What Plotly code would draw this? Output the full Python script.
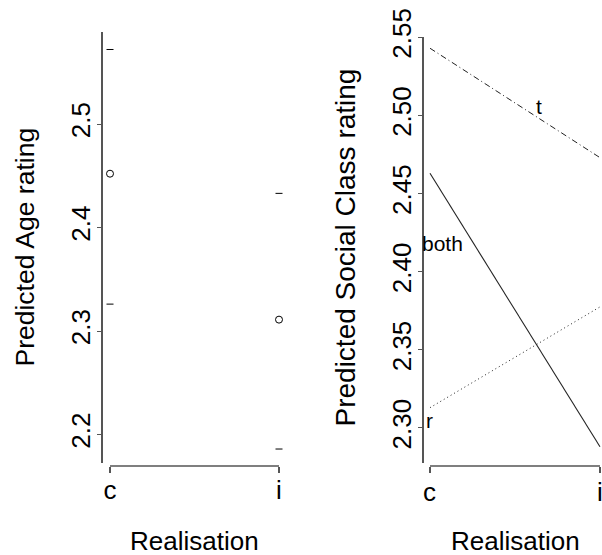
import plotly.graph_objects as go

# ---- data ----
categories = ["c", "i"]
age_pred = [2.452, 2.311]
age_upper = [2.572, 2.433]
age_lower = [2.326, 2.186]

class_both = [2.463, 2.288]
class_t = [2.543, 2.473]
class_r = [2.313, 2.3775]

label_text = ["t", "both", "r"]
label_x = [0.641, 0.074, -0.003]
label_y = [2.5058, 2.418, 2.305]

left_yticks = [2.2, 2.3, 2.4, 2.5]
right_yticks = [2.30, 2.35, 2.40, 2.45, 2.50, 2.55]

W, H = 602, 555
FONT = "Liberation Sans, Arial, sans-serif"
AX = "#555555"
LN = "#222222"


def px(x):
    return x / W


def py(y):
    return 1 - y / H


xi = list(range(len(categories)))

fig = go.Figure()

# left panel
fig.add_trace(go.Scatter(x=xi, y=age_pred, mode="markers",
                         marker=dict(symbol="circle-open", size=7, color="black", line=dict(width=1)),
                         xaxis="x", yaxis="y", showlegend=False))
fig.add_trace(go.Scatter(x=xi + xi, y=age_upper + age_lower, mode="markers",
                         marker=dict(symbol="line-ew", size=5, color="black", line=dict(width=1, color="black")),
                         xaxis="x", yaxis="y", showlegend=False))

# right panel
fig.add_trace(go.Scatter(x=xi, y=class_t, mode="lines",
                         line=dict(color=LN, width=1, dash="6px,3px,1px,3px"),
                         xaxis="x2", yaxis="y2", showlegend=False))
fig.add_trace(go.Scatter(x=xi, y=class_both, mode="lines",
                         line=dict(color=LN, width=1.1),
                         xaxis="x2", yaxis="y2", showlegend=False))
fig.add_trace(go.Scatter(x=xi, y=class_r, mode="lines",
                         line=dict(color=LN, width=1, dash="1px,3px"),
                         xaxis="x2", yaxis="y2", showlegend=False))

# dummy traces to bind the free x axes
fig.add_trace(go.Scatter(x=xi, y=[None, None], xaxis="x3", yaxis="y", showlegend=False, hoverinfo="skip"))
fig.add_trace(go.Scatter(x=xi, y=[None, None], xaxis="x4", yaxis="y2", showlegend=False, hoverinfo="skip"))

tickfont = dict(family=FONT, size=26, color="black")
xpos = py(466)

common_y = dict(showline=True, linecolor=AX, linewidth=1.5, ticks="outside", ticklen=4,
                tickcolor=AX, tickwidth=1.2, showgrid=False, zeroline=False,
                tickangle=-90, tickfont=tickfont, automargin=False, ticklabelstandoff=-3,
                ticklabeloverflow="allow")
common_x = dict(anchor="free", position=xpos, showline=False, showgrid=False, zeroline=False,
                tickvals=xi, ticktext=categories, ticks="outside", ticklen=6,
                tickcolor=AX, tickwidth=1.5, tickfont=tickfont, automargin=False,
                ticklabelstandoff=-5, ticklabeloverflow="allow")

fig.update_layout(
    width=W, height=H, margin=dict(l=0, r=0, t=0, b=0, autoexpand=False),
    paper_bgcolor="white", plot_bgcolor="white",
    xaxis=dict(domain=[px(103), px(286)], range=[-0.0414, 1.0414], visible=False, anchor="y"),
    yaxis=dict(domain=[py(463), py(32)], range=[2.1725, 2.5889], tickvals=left_yticks,
               tickformat=".1f", anchor="x", **common_y),
    xaxis3=dict(domain=[px(103), px(286)], range=[-0.0414, 1.0414], overlaying="x", **common_x),
    xaxis2=dict(domain=[px(424), 1.0], range=[-0.0353, 1.0118], visible=False, anchor="y2"),
    yaxis2=dict(domain=[py(463), py(37)], range=[2.2776, 2.5502], tickvals=right_yticks,
                tickformat=".2f", anchor="x2", **common_y),
    xaxis4=dict(domain=[px(424), 1.0], range=[-0.0353, 1.0118], overlaying="x2", **common_x),
)
# right-panel category labels drawn as annotations (the last one sits at the page edge)
fig.update_layout(xaxis4_showticklabels=False)
for k, cat in zip(xi, categories):
    fig.add_annotation(text=cat, x=k, y=py(492), xref="x2", yref="paper", showarrow=False,
                       xanchor="center", yanchor="middle", font=tickfont)

# x axis lines from c to i
for xr in ["x", "x2"]:
    fig.add_shape(type="line", xref=xr, yref="paper", x0=xi[0], x1=xi[-1], y0=xpos, y1=xpos,
                  line=dict(color=AX, width=1.5))

# line labels
for t, x, y in zip(label_text, label_x, label_y):
    fig.add_annotation(text=t, x=x, y=y, xref="x2", yref="y2", showarrow=False,
                       xanchor="center", yanchor="middle",
                       font=dict(family=FONT, size=21, color="black"))

# axis titles
def title(text, x, y, size, angle=0):
    fig.add_annotation(text=text, x=px(x), y=py(y), xref="paper", yref="paper",
                       showarrow=False, textangle=angle, xanchor="center", yanchor="middle",
                       font=dict(family=FONT, size=size, color="black"))


title("Predicted Age rating", 24, 247.5, 26.5, -90)
title("Predicted Social Class rating", 345, 247.5, 28, -90)
title("Realisation", 194, 541, 26)
title("Realisation", 515, 541, 26)

fig.write_html("out.html", config={"displayModeBar": False},
               post_script="document.body.style.margin='0';document.body.style.overflow='hidden';")
